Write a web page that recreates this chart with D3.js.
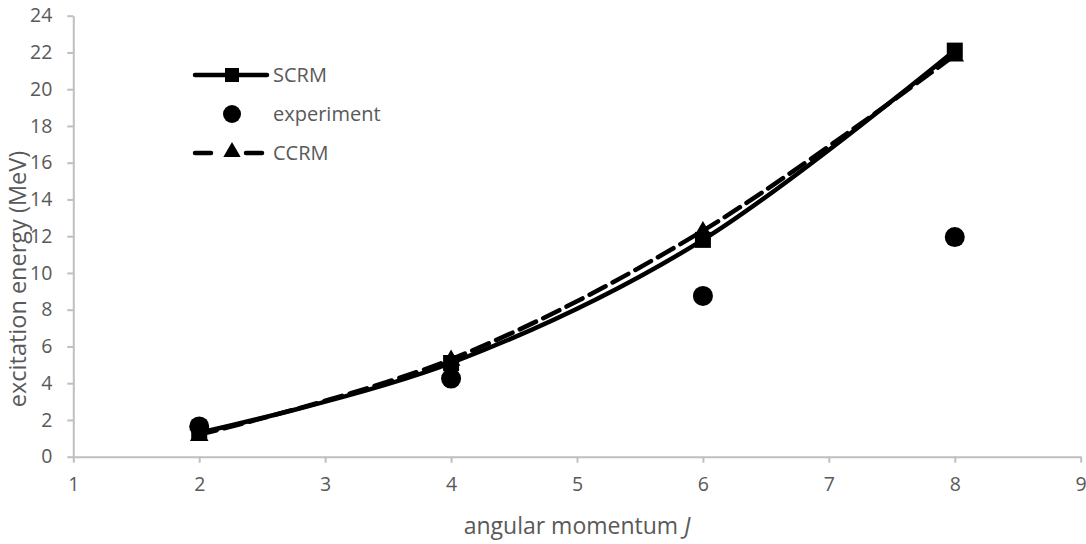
<!DOCTYPE html>
<html>
<head>
<meta charset="utf-8">
<script src="https://cdn.jsdelivr.net/npm/d3@7"></script>
<style>
  html, body { margin: 0; padding: 0; background: #fff; }
  svg { display: block; font-family: "Open Sans", sans-serif; }
</style>
</head>
<body>
<svg id="chart" width="1086" height="544"></svg>
<script>
// ---- data ----
const J = [2, 4, 6, 8];
const scrm = [1.3, 5.1, 11.8, 22.1];
const experiment = [1.65, 4.25, 8.75, 11.95];
const ccrm = [1.2, 5.3, 12.3, 21.85];
const xTicks = [1, 2, 3, 4, 5, 6, 7, 8, 9];
const yTicks = [0, 2, 4, 6, 8, 10, 12, 14, 16, 18, 20, 22, 24];
const seriesNames = ["SCRM", "experiment", "CCRM"];
const xTitle = "angular momentum ";
const xTitleItalic = "J";
const yTitle = "excitation energy (MeV)";

// ---- layout ----
const svg = d3.select("#chart");
const axisColor = "#bfbfbf";
const textColor = "#595959";
const x = d3.scaleLinear().domain([1, 9]).range([73.3, 1080.7]);
const y = d3.scaleLinear().domain([0, 24]).range([456.7, 15.7]);

// axes
const xAxis = svg.append("g").attr("transform", `translate(0,${y(0)})`)
  .call(d3.axisBottom(x).tickValues(xTicks).tickSize(6).tickSizeOuter(0).tickPadding(10).tickFormat(d3.format("d")));
const yAxis = svg.append("g").attr("transform", `translate(${x(1)},0)`)
  .call(d3.axisLeft(y).tickValues(yTicks).tickSize(6).tickSizeOuter(0).tickPadding(15).tickFormat(d3.format("d")));
[xAxis, yAxis].forEach(g => {
  g.select(".domain").attr("stroke", axisColor).attr("stroke-width", 2);
  g.selectAll(".tick line").attr("stroke", axisColor).attr("stroke-width", 2);
  g.selectAll(".tick text").attr("fill", textColor).style("font-size", "19.5px")
    .style("font-family", '"Open Sans", sans-serif');
});
xAxis.selectAll(".tick text").attr("dy", "0.95em");

// axis titles
const xt = svg.append("text").attr("x", (x(1) + x(9)) / 2).attr("y", 534)
  .attr("text-anchor", "middle").attr("fill", textColor).style("font-size", "23px");
xt.append("tspan").text(xTitle);
xt.append("tspan").attr("font-style", "italic").text(xTitleItalic);

svg.append("text").attr("transform", "translate(26,279) rotate(-90)")
  .attr("text-anchor", "middle").attr("fill", textColor).style("font-size", "23.5px")
  .text(yTitle);

// ---- series ----
const curve = d3.curveCardinal.tension(0);
const lineGen = d3.line().x(d => x(d[0])).y(d => y(d[1])).curve(curve);

const scrmData = J.map((j, i) => [j, scrm[i]]);
const expData = J.map((j, i) => [j, experiment[i]]);
const ccrmData = J.map((j, i) => [j, ccrm[i]]);

const sqSize = 16;
const sym = {
  square: d3.symbol().type(d3.symbolSquare).size(sqSize * sqSize),
  circle: d3.symbol().type(d3.symbolCircle).size(Math.PI * 10 * 10),
  triangle: d3.symbol().type(d3.symbolTriangle).size(150)
};

// SCRM
svg.append("path").datum(scrmData).attr("d", lineGen)
  .attr("fill", "none").attr("stroke", "#000").attr("stroke-width", 4.5).attr("stroke-linejoin", "round");
svg.selectAll(".sq").data(scrmData).enter().append("path")
  .attr("transform", d => `translate(${x(d[0])},${y(d[1])})`).attr("d", sym.square).attr("fill", "#000");

// experiment
svg.selectAll(".ci").data(expData).enter().append("path")
  .attr("transform", d => `translate(${x(d[0])},${y(d[1])})`).attr("d", sym.circle).attr("fill", "#000");

// CCRM
svg.append("path").datum(ccrmData).attr("d", lineGen)
  .attr("fill", "none").attr("stroke", "#000").attr("stroke-width", 4.5)
  .attr("stroke-dasharray", "18,8").attr("stroke-linecap", "round");
svg.selectAll(".tr").data(ccrmData).enter().append("path")
  .attr("transform", d => `translate(${x(d[0])},${y(d[1]) + 1})`).attr("d", sym.triangle).attr("fill", "#000");

// ---- legend ----
const leg = svg.append("g");
const legY = [75, 114, 153];
const lx0 = 195, lx1 = 267, lmid = 232, ltext = 273;
// SCRM
leg.append("line").attr("x1", lx0).attr("x2", lx1).attr("y1", legY[0]).attr("y2", legY[0])
  .attr("stroke", "#000").attr("stroke-width", 4.5).attr("stroke-linecap", "round");
leg.append("path").attr("transform", `translate(${lmid},${legY[0]})`)
  .attr("d", d3.symbol().type(d3.symbolSquare).size(14 * 14)).attr("fill", "#000");
// experiment
leg.append("path").attr("transform", `translate(${lmid},${legY[1]})`)
  .attr("d", d3.symbol().type(d3.symbolCircle).size(Math.PI * 9 * 9)).attr("fill", "#000");
// CCRM
leg.append("line").attr("x1", lx0).attr("x2", 211).attr("y1", legY[2]).attr("y2", legY[2])
  .attr("stroke", "#000").attr("stroke-width", 4.5).attr("stroke-linecap", "round");
leg.append("line").attr("x1", 246).attr("x2", 262).attr("y1", legY[2]).attr("y2", legY[2])
  .attr("stroke", "#000").attr("stroke-width", 4.5).attr("stroke-linecap", "round");
leg.append("path").attr("transform", `translate(${lmid},${legY[2] - 1})`)
  .attr("d", d3.symbol().type(d3.symbolTriangle).size(130)).attr("fill", "#000");

seriesNames.forEach((n, i) => {
  leg.append("text").attr("x", ltext).attr("y", legY[i]).attr("dy", "0.35em")
    .attr("fill", textColor).style("font-size", "20px").text(n);
});
</script>
</body>
</html>
